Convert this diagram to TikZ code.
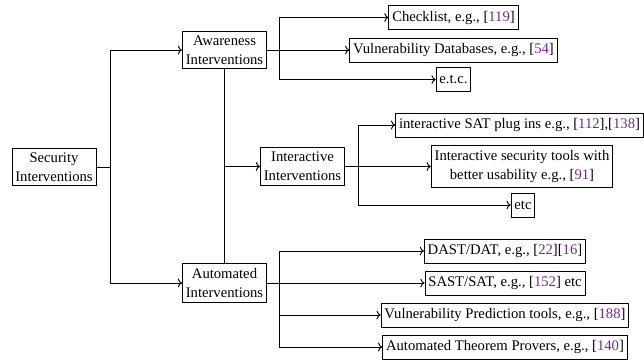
\documentclass[tikz,border=0pt]{standalone}
\usepackage{fontspec}
\setmainfont{Liberation Serif}
\usepackage{xcolor}
\usepackage{tikz}
\usetikzlibrary{arrows.meta, positioning}
\definecolor{citecol}{RGB}{120,40,135}
\newcommand{\cit}[1]{[\textcolor{citecol}{#1}]}
\tikzset{box/.style={rectangle, draw, align=center, inner xsep=2.5pt, inner ysep=3.5pt, minimum height=18pt, font=\fontsize{11}{14}\selectfont}}

\begin{document}
\begin{tikzpicture}[x=0.75pt, y=-0.75pt, line width=0.7pt]
  \useasboundingbox (0,0) rectangle (644,362);
  \node[box] (Sec) at (54,167) {Security\\Interventions};
  \node[box] (Awa) at (224.5,50) {Awareness\\Interventions};
  \node[box] (Int) at (302.5,166.5) {Interactive\\Interventions};
  \node[box] (Aut) at (224.5,283) {Automated\\Interventions};
  \node[box] (Chk) at (453.5,17.5) {Checklist, e.g., \cit{119}};
  \node[box] (VDB) at (453.5,50) {Vulnerability Databases, e.g., \cit{54}};
  \node[box] (EtcA) at (453.5,79.5) {e.t.c.};
  \node[box] (SAT) at (519.5,125) {interactive SAT plug ins e.g., \cit{112},\cit{138}};
  \node[box] (IST) at (522,166.5) {Interactive security tools with\\better usability e.g., \cit{91}};
  \node[box] (EtcI) at (523,205) {etc};
  \node[box] (DAST) at (505,251) {DAST/DAT, e.g., \cit{22}\cit{16}};
  \node[box] (SAST) at (505,283) {SAST/SAT, e.g., \cit{152} etc};
  \node[box] (VPT) at (505,315) {Vulnerability Prediction tools, e.g., \cit{188}};
  \node[box] (ATP) at (505,347) {Automated Theorem Provers, e.g., \cit{140}};
  \coordinate (JS) at (110,167);
  \coordinate (JA) at (279,50);
  \coordinate (JI) at (358,166.5);
  \coordinate (JT) at (279,283);
  \draw[->] (Sec.east) -- (JS) |- (Awa.west);
  \draw[->] (JS) |- (Aut.west);
  \draw (Awa.south) -- (Aut.north);
  \draw[->] (Awa.south |- Int.west) -- (Int.west);
  \draw[->] (Awa.east) -- (JA) |- (Chk.west);
  \draw[->] (JA) -- (VDB.west);
  \draw[->] (JA) |- (EtcA.west);
  \draw[->] (Int.east) -- (JI) |- (SAT.west);
  \draw[->] (JI) -- (IST.west);
  \draw[->] (JI) |- (EtcI.west);
  \draw[->] (Aut.east) -- (JT) |- (DAST.west);
  \draw[->] (JT) -- (SAST.west);
  \draw[->] (JT) |- (VPT.west);
  \draw[->] (JT) |- (ATP.west);
\end{tikzpicture}
\end{document}
